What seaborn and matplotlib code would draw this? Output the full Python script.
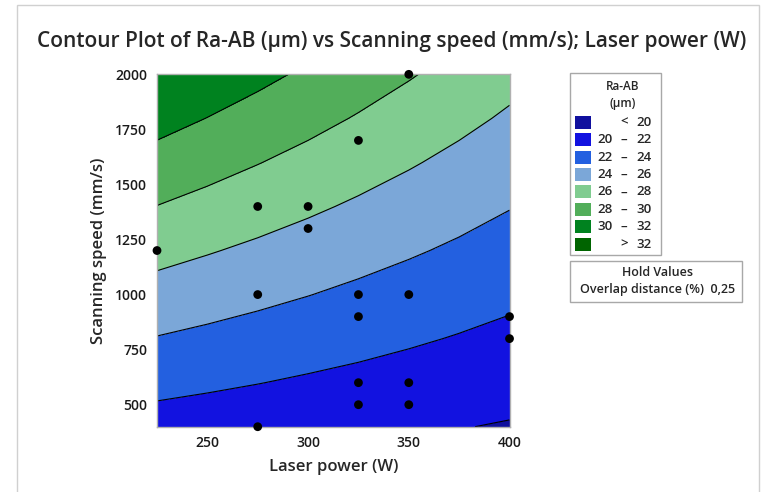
import numpy as np
import pandas as pd
import matplotlib.pyplot as plt
from matplotlib.patches import Rectangle
import seaborn as sns

# grid (Ra-AB in um)
laser_power = [225, 250, 275, 300, 325, 350, 375, 400]
scan_speed = [400, 600, 800, 1000, 1200, 1400, 1600, 1800, 2000]
ra_ab = [
    [21.21, 21.02, 20.83, 20.64, 20.45, 20.25, 20.06, 19.87],
    [22.56, 22.30, 22.04, 21.77, 21.51, 21.24, 20.98, 20.71],
    [23.92, 23.58, 23.24, 22.90, 22.57, 22.23, 21.89, 21.55],
    [25.27, 24.86, 24.45, 24.04, 23.62, 23.21, 22.80, 22.39],
    [26.62, 26.13, 25.65, 25.17, 24.68, 24.20, 23.72, 23.23],
    [27.97, 27.41, 26.86, 26.30, 25.74, 25.19, 24.63, 24.07],
    [29.32, 28.69, 28.06, 27.43, 26.80, 26.17, 25.54, 24.91],
    [30.67, 29.97, 29.27, 28.57, 27.86, 27.16, 26.46, 25.75],
    [32.02, 31.25, 30.47, 29.70, 28.92, 28.15, 27.37, 26.59],
]

# design points
pts_power = [225, 275, 300, 300, 275, 325, 350, 325, 350, 325, 400, 400, 325, 350, 325, 350, 275]
pts_speed = [1200, 1400, 1400, 1300, 1000, 1700, 2000, 1000, 1000, 900, 900, 800, 600, 600, 500, 500, 400]

levels = [20, 22, 24, 26, 28, 30, 32]
band_labels = [("", "<", "20"), ("20", "\u2013", "22"), ("22", "\u2013", "24"), ("24", "\u2013", "26"),
               ("26", "\u2013", "28"), ("28", "\u2013", "30"), ("30", "\u2013", "32"), ("", ">", "32")]
band_colors = ["#10109E", "#1212E0", "#2360E0", "#7BA7D8", "#80CC90", "#52AE5A", "#00821F", "#006400"]

sns.set_style("white")
plt.rcParams['font.family'] = ['Open Sans', 'DejaVu Sans']

fig = plt.figure(figsize=(7.67, 4.92), dpi=100)
ax = fig.add_axes([0.2047, 0.1327, 0.4596, 0.7162])

X, Y = np.meshgrid(laser_power, scan_speed)
Z = np.array(ra_ab)
big = [-100] + levels + [100]
ax.contourf(X, Y, Z, levels=big, colors=band_colors)
ax.contour(X, Y, Z, levels=levels, colors="black", linewidths=0.8)

df = pd.DataFrame({"Laser power (W)": pts_power, "Scanning speed (mm/s)": pts_speed})
sns.scatterplot(data=df, x="Laser power (W)", y="Scanning speed (mm/s)", ax=ax,
                color="black", s=40, edgecolor="none", zorder=5, clip_on=False)

ax.set_xlim(225, 400)
ax.set_ylim(400, 2000)
ax.set_xticks([250, 300, 350, 400])
ax.set_yticks([500, 750, 1000, 1250, 1500, 1750, 2000])
ax.tick_params(axis="both", direction="out", length=4, width=1, color="#a0a0a0",
               labelsize=10, labelcolor="#1a1a1a", pad=3)
for lab in ax.get_xticklabels() + ax.get_yticklabels():
    lab.set_fontweight("semibold")
for sp in ax.spines.values():
    sp.set_color("#b0b0b0")
    sp.set_linewidth(1)
ax.set_xlabel("Laser power (W)", fontsize=12, fontweight="semibold", labelpad=6)
ax.set_ylabel("Scanning speed (mm/s)", fontsize=12, fontweight="semibold", labelpad=6)

fig.text(0.511, 0.915, "Contour Plot of Ra-AB (\u00b5m) vs Scanning speed (mm/s); Laser power (W)",
         ha="center", va="center", fontsize=15, fontweight="semibold")

# outer frame
W, H = 767, 492
fig.patches.append(Rectangle((17 / W, -0.05), (759 - 17) / W, 1.05 - 5 / H, transform=fig.transFigure,
                             fill=False, edgecolor="#d0d0d0", linewidth=1))

def fx(px):
    return px / W

def fy(py):
    return 1 - py / H

# legend box
fig.patches.append(Rectangle((fx(570), fy(255)), (661 - 570) / W, (255 - 73) / H, transform=fig.transFigure,
                             fill=False, edgecolor="#a8a8a8", linewidth=1))
fig.text(fx(623), fy(87), "Ra-AB", ha="center", va="center", fontsize=8.5, fontweight="semibold")
fig.text(fx(623), fy(104), "(\u00b5m)", ha="center", va="center", fontsize=8.5, fontweight="semibold")
for i, (col, (lo, sym, hi)) in enumerate(zip(band_colors, band_labels)):
    yc = 122.3 + i * 17.4
    fig.patches.append(Rectangle((fx(575), fy(yc + 6.5)), 16 / W, 13 / H, transform=fig.transFigure,
                                 facecolor=col, edgecolor="none"))
    fig.text(fx(613), fy(yc), lo, ha="right", va="center", fontsize=9.5, fontweight="semibold")
    fig.text(fx(624), fy(yc), sym, ha="center", va="center", fontsize=9.5, fontweight="semibold")
    fig.text(fx(652), fy(yc), hi, ha="right", va="center", fontsize=9.5, fontweight="semibold")

# hold values box
fig.patches.append(Rectangle((fx(570), fy(302)), (742 - 570) / W, (302 - 261) / H, transform=fig.transFigure,
                             fill=False, edgecolor="#a8a8a8", linewidth=1))
fig.text(fx(657), fy(272), "Hold Values", ha="center", va="center", fontsize=9, fontweight="semibold")
fig.text(fx(580), fy(290), "Overlap distance (%)  0,25", ha="left", va="center", fontsize=9,
         fontweight="semibold")

fig.savefig("out.png", dpi=100)
